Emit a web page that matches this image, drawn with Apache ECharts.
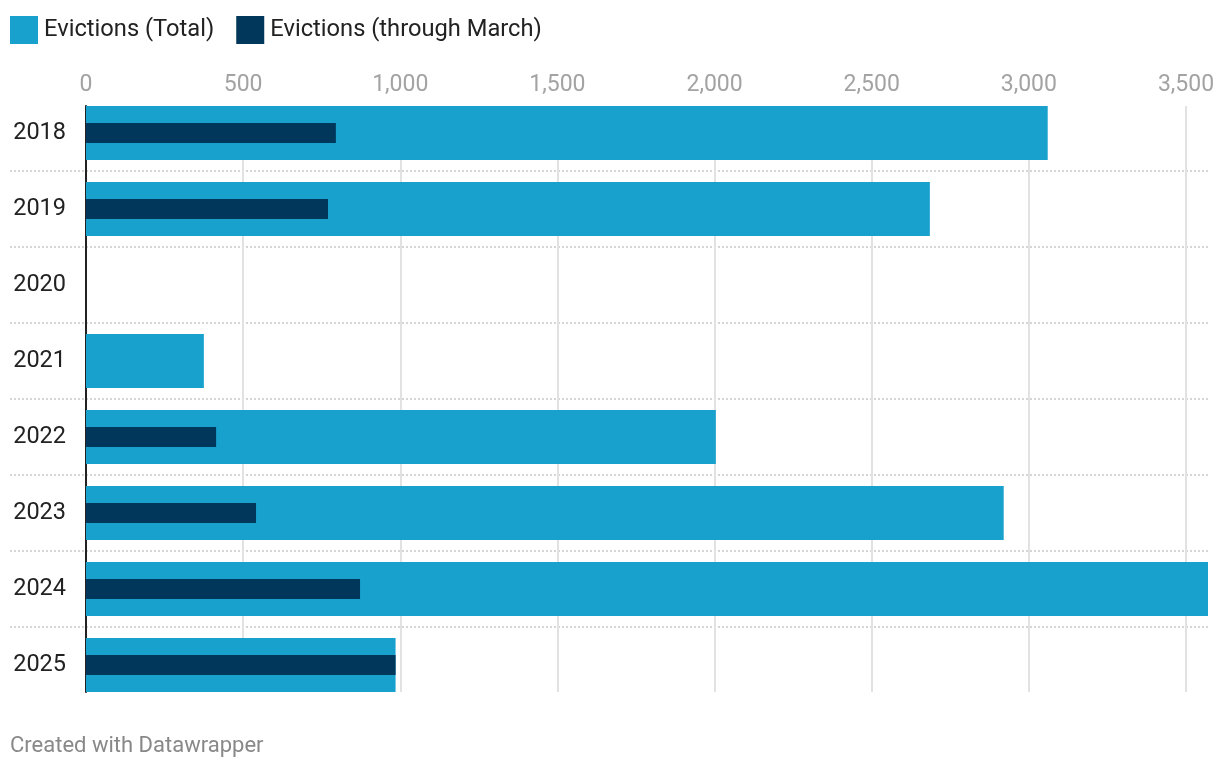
<!DOCTYPE html>
<html>
<head>
<meta charset="utf-8">
<script src="https://cdn.jsdelivr.net/npm/echarts@6/dist/echarts.min.js"></script>
<style>
html,body{margin:0;padding:0;background:#fff;}
#chart{width:1220px;height:768px;}
</style>
</head>
<body>
<div id="chart"></div>
<script>
const years = ['2018','2019','2020','2021','2022','2023','2024','2025'];
const evictionsTotal = [3060, 2685, null, 375, 2004, 2920, 3570, 985];
const evictionsMarch = [795, 770, null, null, 414, 541, 872, 985];
const xTicks = [0, 500, 1000, 1500, 2000, 2500, 3000, 3500];

const FONT = 'Roboto';
const xMax = Math.max(...evictionsTotal.filter(v => v != null));
const chart = echarts.init(document.getElementById('chart'));

chart.setOption({
  animation: false,
  textStyle: { fontFamily: FONT },
  legend: {
    left: 10, top: 16, padding: 0,
    itemWidth: 28, itemHeight: 28, itemGap: 22,
    icon: 'rect',
    textStyle: { fontSize: 23.7, color: '#222', fontFamily: FONT, padding: [0, 0, 0, 1] },
    data: ['Evictions (Total)', 'Evictions (through March)']
  },
  graphic: [{
    type: 'text', left: 10, top: 735,
    style: { text: 'Created with Datawrapper', fontSize: 22, fill: '#888', fontFamily: FONT }
  }],
  grid: [
    { left: 86, right: 12, top: 95, height: 608 },
    { left: 86, right: 12, top: 106, height: 586 },
    { left: 10, right: 12, top: 95, height: 608 }
  ],
  xAxis: [
    {
      gridIndex: 0, type: 'value', position: 'top', min: 0, max: xMax, interval: 500,
      axisLine: { show: false }, axisTick: { show: false }, splitLine: { show: false },
      axisLabel: {
        fontSize: 23, color: '#a3a3a3', margin: -2, fontFamily: FONT,
        showMaxLabel: false,
        formatter: v => xTicks.includes(v) ? v.toLocaleString('en-US') : ''
      }
    },
    {
      gridIndex: 1, type: 'value', position: 'top', min: 0, max: xMax, interval: 500,
      axisLine: { show: false }, axisTick: { show: false }, axisLabel: { show: false },
      splitLine: { show: true, showMinLine: false, showMaxLine: false, lineStyle: { color: '#e2e2e2', width: 2 } }
    },
    { gridIndex: 2, type: 'value', show: false, min: 0, max: 1 }
  ],
  yAxis: [
    {
      gridIndex: 0, type: 'category', data: years, inverse: true,
      axisLine: { show: false }, axisTick: { show: false }, splitLine: { show: false },
      axisLabel: { fontSize: 23.5, color: '#222', margin: 20, fontFamily: FONT }
    },
    {
      gridIndex: 1, type: 'category', data: years, inverse: true,
      axisLine: { show: true, onZero: false, lineStyle: { color: '#222', width: 2 } },
      axisTick: { show: false }, axisLabel: { show: false }, splitLine: { show: false }
    },
    {
      gridIndex: 2, type: 'category', data: years, inverse: true,
      axisLine: { show: false }, axisTick: { show: false }, axisLabel: { show: false },
      splitLine: { show: true, showMinLine: false, showMaxLine: false, lineStyle: { color: '#c8c8c8', width: 1.5, type: [2, 2] } }
    },
    {
      gridIndex: 0, type: 'category', data: years, inverse: true, show: false
    }
  ],
  series: [
    {
      name: 'Evictions (Total)', type: 'bar', xAxisIndex: 0, yAxisIndex: 0,
      barWidth: 54, itemStyle: { color: '#18a1cd' }, z: 3,
      data: evictionsTotal
    },
    {
      name: 'Evictions (through March)', type: 'bar', xAxisIndex: 0, yAxisIndex: 3,
      barWidth: 20, itemStyle: { color: '#01375b' }, z: 4,
      data: evictionsMarch
    }
  ]
});
</script>
</body>
</html>
